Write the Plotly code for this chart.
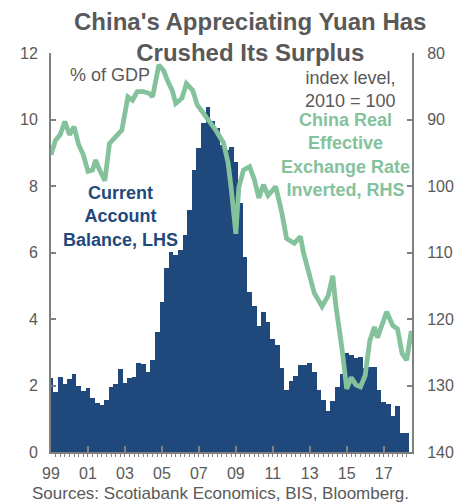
import plotly.graph_objects as go

NAVY = "#1f497d"
GREEN = "#84c29c"
GREY = "#595959"
AXIS = "#808080"
FONT = "Liberation Sans, Arial, sans-serif"

# Current account balance, % of GDP (quarterly, 1999Q1 - 2018Q2)
ca_quarters = [f"{y}-{m:02d}-01" for y in range(1999, 2019) for m in (1, 4, 7, 10)][:78]
ca_balance = [
    2.22, 1.81, 2.27, 2.05,
    2.20, 2.35, 1.98, 1.83,
    1.93, 1.61, 1.46, 1.41,
    1.56, 1.95, 2.05, 2.49,
    2.07, 2.22, 2.27, 2.69,
    2.65, 2.42, 2.77, 3.62,
    4.52, 5.52, 6.02, 5.92,
    6.07, 6.53, 7.28, 8.48,
    9.13, 9.88, 10.39, 9.95,
    9.75, 9.23, 9.08, 9.18,
    8.73, 7.50, 5.87, 4.82,
    4.40, 3.80, 4.22, 3.92,
    3.39, 3.22, 2.52, 1.86,
    2.14, 2.29, 2.62, 2.62,
    2.67, 2.42, 1.86, 1.56,
    1.24, 1.54, 1.96, 2.35,
    2.97, 2.92, 2.82, 2.87,
    2.52, 2.55, 2.55, 1.86,
    1.51, 1.44, 1.09, 1.39,
    0.58, 0.58,
]

# China real effective exchange rate, 2010 = 100 (plotted inverted)
reer_dates = [
    "1999-01", "1999-04", "1999-07", "1999-10", "2000-01", "2000-04", "2000-07", "2000-10",
    "2001-01", "2001-04", "2001-06", "2001-08", "2001-12", "2002-03", "2002-07", "2002-11",
    "2003-03", "2003-06", "2003-09", "2004-01", "2004-05", "2004-07", "2004-11", "2005-02",
    "2005-05", "2005-08", "2005-10", "2006-02", "2006-05", "2006-09", "2006-12", "2007-04",
    "2007-08", "2007-12", "2008-05", "2008-08", "2008-10", "2009-01", "2009-03", "2009-06",
    "2009-10", "2010-01", "2010-04", "2010-07", "2010-10", "2011-01", "2011-03", "2011-07",
    "2011-10", "2012-03", "2012-07", "2012-09", "2013-01", "2013-04", "2013-09", "2014-01",
    "2014-04", "2014-06", "2014-10", "2015-01", "2015-04", "2015-07", "2015-10", "2016-01",
    "2016-04", "2016-07", "2016-09", "2017-01", "2017-03", "2017-07", "2017-10", "2018-01",
    "2018-04", "2018-07",
]
reer_index = [
    95.3, 93.1, 92.3, 90.3, 92.3, 91.1, 93.8, 95.3,
    97.8, 97.6, 96.1, 97.3, 99.2, 93.6, 92.6, 91.6,
    86.6, 87.1, 85.8, 85.8, 86.1, 86.6, 81.8, 82.6,
    84.3, 85.8, 87.6, 86.8, 84.6, 85.6, 87.8, 89.1,
    90.1, 91.6, 93.5, 96.5, 100.3, 107.2, 100.2, 97.6,
    97.1, 99.0, 101.8, 99.8, 101.4, 100.6, 100.1, 104.1,
    107.9, 108.6, 107.6, 110.1, 113.6, 116.1, 118.1, 116.5,
    113.5, 118.0, 124.5, 130.5, 128.8, 129.9, 130.2, 128.5,
    123.3, 121.2, 122.8, 119.9, 118.9, 121.0, 121.5, 125.2,
    126.2, 121.8,
]

# page body has an 8px margin, so the figure is drawn 8px smaller
W, H = 458, 496
PLOT_L, PLOT_T, PLOT_W, PLOT_H = 48, 53, 370, 399  # window pixels
QUARTER_MS = 93 * 24 * 3600 * 1000  # slight overlap so bars read as one solid area


def px(wx, wy):
    """Window pixel position -> paper coordinates."""
    return (wx - PLOT_L) / PLOT_W, (PLOT_T + PLOT_H - wy) / PLOT_H


fig = go.Figure()
fig.add_trace(go.Bar(x=ca_quarters, y=ca_balance, width=QUARTER_MS,
                     marker=dict(color=NAVY, line=dict(width=0)),
                     name="Current Account Balance, LHS"))
fig.add_trace(go.Scatter(x=reer_dates, y=reer_index, mode="lines", yaxis="y2",
                         line=dict(color=GREEN, width=4.8), name="REER inverted, RHS"))

axis_common = dict(showline=True, linecolor=AXIS, linewidth=2, ticks="inside",
                   tickcolor=AXIS, tickwidth=2, ticklen=5, showgrid=False, zeroline=False,
                   tickfont=dict(size=16, color=GREY, family=FONT))

fig.update_layout(
    width=W, height=H,
    margin=dict(l=PLOT_L - 8, r=W - (PLOT_L - 8) - PLOT_W, t=PLOT_T - 8,
                b=H - (PLOT_T - 8) - PLOT_H),
    paper_bgcolor="white", plot_bgcolor="white",
    showlegend=False, bargap=0,
    font=dict(family=FONT, color=GREY),
    xaxis=dict(axis_common, type="date", range=["1999-01-01", "2018-07-15"],
               tick0="1999-01-01", dtick="M24", tickformat="%y", ticklen=6,
               ticklabelstandoff=6,
               minor=dict(ticks="outside", dtick="M3", ticklen=3, tickcolor=AXIS, tickwidth=1)),
    yaxis=dict(axis_common, range=[0, 12], dtick=2, ticklabelstandoff=8),
    yaxis2=dict(axis_common, range=[140, 80], dtick=10, overlaying="y", side="right",
                ticklabelstandoff=10),
)

notes = [
    ("<b>China's Appreciating Yuan Has<br>Crushed Its Surplus</b>", 252, 37, "center", 24, GREY),
    ("% of GDP", 66, 75, "left", 18, GREY),
    ("index level,<br>2010 = 100", 403, 89, "right", 18, GREY),
    ("<b>China Real<br>Effective<br>Exchange Rate<br>Inverted, RHS</b>", 350, 155, "center", 18, GREEN),
    ("<b>Current<br>Account<br>Balance, LHS</b>", 119, 216, "center", 18, NAVY),
    ("Sources: Scotiabank Economics, BIS, Bloomberg.", 28, 494, "left", 17, GREY),
]
for text, wx, wy, anchor, size, color in notes:
    x, y = px(wx, wy)
    fig.add_annotation(text=text, x=x, y=y, xref="paper", yref="paper",
                       xanchor=anchor, yanchor="middle", align=anchor, showarrow=False,
                       borderpad=0, font=dict(size=size, color=color, family=FONT))

fig.write_html("out.html")
